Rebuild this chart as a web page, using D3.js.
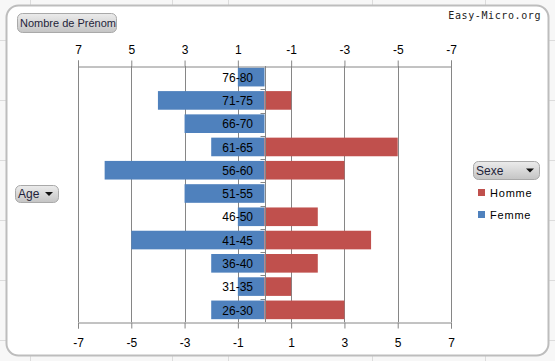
<!DOCTYPE html>
<html><head><meta charset="utf-8">
<script src="https://cdn.jsdelivr.net/npm/d3@7"></script>
<style>body{margin:0;background:#fff}svg{display:block}</style>
</head><body>
<svg id="c" width="555" height="361"></svg>
<script>
const categories = ["76-80","71-75","66-70","61-65","56-60","51-55","46-50","41-45","36-40","31-35","26-30"];
const femme = [1,4,3,2,6,3,1,5,2,1,2];
const homme = [0,1,0,5,3,0,2,4,2,1,3];
const tickValues = [-7,-5,-3,-1,1,3,5,7];
const seriesNames = ["Homme","Femme"];
const seriesColors = ["#C0504D","#4F81BD"];

(function(){
const svg = d3.select("#c");
const font = "'Liberation Sans', Arial, sans-serif";

// spreadsheet background
svg.append("rect").attr("width",555).attr("height",361).attr("fill","#f7f7f7");
const bg = svg.append("g").attr("stroke","#dcdcdc").attr("stroke-width",1);
[30,172,228,372,485].forEach(xx=>bg.append("line").attr("x1",xx+0.5).attr("x2",xx+0.5).attr("y1",0).attr("y2",361));
[40,100,160,220,280,340].forEach(yy=>bg.append("line").attr("x1",0).attr("x2",555).attr("y1",yy+0.5).attr("y2",yy+0.5));
// chart frame
svg.append("rect").attr("x",6.5).attr("y",5.5).attr("width",542).attr("height",350).attr("rx",12)
  .attr("fill","#fff").attr("stroke","#bdbdbd").attr("stroke-width",2);

const x = d3.scaleLinear().domain([-7,7]).range([78,451]);
const xTop = d3.scaleLinear().domain([7,-7]).range([78,451]);
const pTop = 66, pBottom = 322;
const y = d3.scaleBand().domain(categories).range([pTop,pBottom]).paddingInner(0.2).paddingOuter(0.1);
const fmt = d => String(d);

// gridlines
svg.append("g").selectAll("line").data(tickValues).join("line")
  .attr("x1",d=>Math.round(x(d))+0.5).attr("x2",d=>Math.round(x(d))+0.5)
  .attr("y1",pTop).attr("y2",pBottom).attr("stroke","#868686");

// axes
const gTop = svg.append("g").attr("transform",`translate(0,${pTop+0.5})`)
  .call(d3.axisTop(xTop).tickValues(tickValues).tickSize(6).tickPadding(8).tickFormat(fmt));
const gBot = svg.append("g").attr("transform",`translate(0,${pBottom+0.5})`)
  .call(d3.axisBottom(x).tickValues(tickValues).tickSize(6).tickPadding(8).tickFormat(fmt));
[gTop,gBot].forEach(g=>{
  g.select(".domain").attr("stroke","#868686");
  g.selectAll(".tick line").attr("stroke","#868686");
  g.selectAll("text").attr("font-family",font).attr("font-size",12).attr("fill","#000");
});
gTop.selectAll(".tick text").attr("dy","0.1em");
gBot.selectAll(".tick text").attr("dy","0.9em");

// bars
const bh = y.bandwidth();
svg.append("g").selectAll("rect").data(categories).join("rect")
  .attr("x",(d,i)=>x(-femme[i])).attr("width",(d,i)=>x(0)-x(-femme[i]))
  .attr("y",d=>y(d)-0.5).attr("height",bh).attr("fill",seriesColors[1]);
svg.append("g").selectAll("rect").data(categories).join("rect")
  .attr("x",x(0)).attr("width",(d,i)=>x(homme[i])-x(0))
  .attr("y",d=>y(d)-0.5).attr("height",bh).attr("fill",seriesColors[0]);

// category axis at 0
const cx = Math.round(x(0))+0.5;
svg.append("line").attr("x1",cx).attr("x2",cx).attr("y1",pTop).attr("y2",pBottom).attr("stroke","#868686");
const bounds = d3.range(1,categories.length).map(i=>pTop + i*(pBottom-pTop)/categories.length);
svg.append("g").selectAll("line").data(bounds).join("line")
  .attr("x1",cx-5).attr("x2",cx).attr("y1",d=>Math.round(d)+0.5).attr("y2",d=>Math.round(d)+0.5)
  .attr("stroke","#868686");
svg.append("g").selectAll("text").data(categories).join("text")
  .attr("x",253).attr("y",d=>y(d)+bh/2).attr("dy","0.35em").attr("text-anchor","end")
  .attr("font-family",font).attr("font-size",12).attr("fill","#000").text(d=>d);

// buttons
const defs = svg.append("defs");
const grad = defs.append("linearGradient").attr("id","btn").attr("x1",0).attr("x2",0).attr("y1",0).attr("y2",1);
grad.append("stop").attr("offset","0%").attr("stop-color","#ececec");
grad.append("stop").attr("offset","100%").attr("stop-color","#c4c4c4");
function button(bx,by,w,h,label,arrow,fs){
  const g = svg.append("g");
  g.append("rect").attr("x",bx+0.5).attr("y",by+0.5).attr("width",w).attr("height",h).attr("rx",5)
    .attr("fill","url(#btn)").attr("stroke","#a9a9a9");
  g.append("text").attr("x",bx+3).attr("y",by+h/2+0.5).attr("dy","0.35em")
    .attr("font-family",font).attr("font-size",fs).attr("fill","#1f1f3a").text(label);
  if(arrow){
    const ax = bx+w-9, ay = by+h/2-1.5;
    g.append("path").attr("d",`M${ax-4},${ay}L${ax+4},${ay}L${ax},${ay+4}Z`).attr("fill","#111");
  }
}
button(17,13,99,19,"Nombre de Prénom",false,11);
button(15,185,43,17,"Age",true,12);
button(473,161,66,18,"Sexe",true,12);

// legend
seriesNames.forEach((n,i)=>{
  const ly = 189 + i*22;
  svg.append("rect").attr("x",478).attr("y",ly).attr("width",7).attr("height",7).attr("fill",seriesColors[i]);
  svg.append("text").attr("x",490).attr("y",ly+4).attr("dy","0.35em")
    .attr("font-family",font).attr("font-size",11).attr("letter-spacing","0.8px").attr("fill","#000").text(n);
});

// watermark
svg.append("text").attr("x",541).attr("y",19).attr("text-anchor","end")
  .attr("font-family","'DejaVu Sans Mono', monospace").attr("font-size",10).attr("letter-spacing","0.6px")
  .attr("fill","#222").text("Easy-Micro.org");
})();
</script>
</body></html>
